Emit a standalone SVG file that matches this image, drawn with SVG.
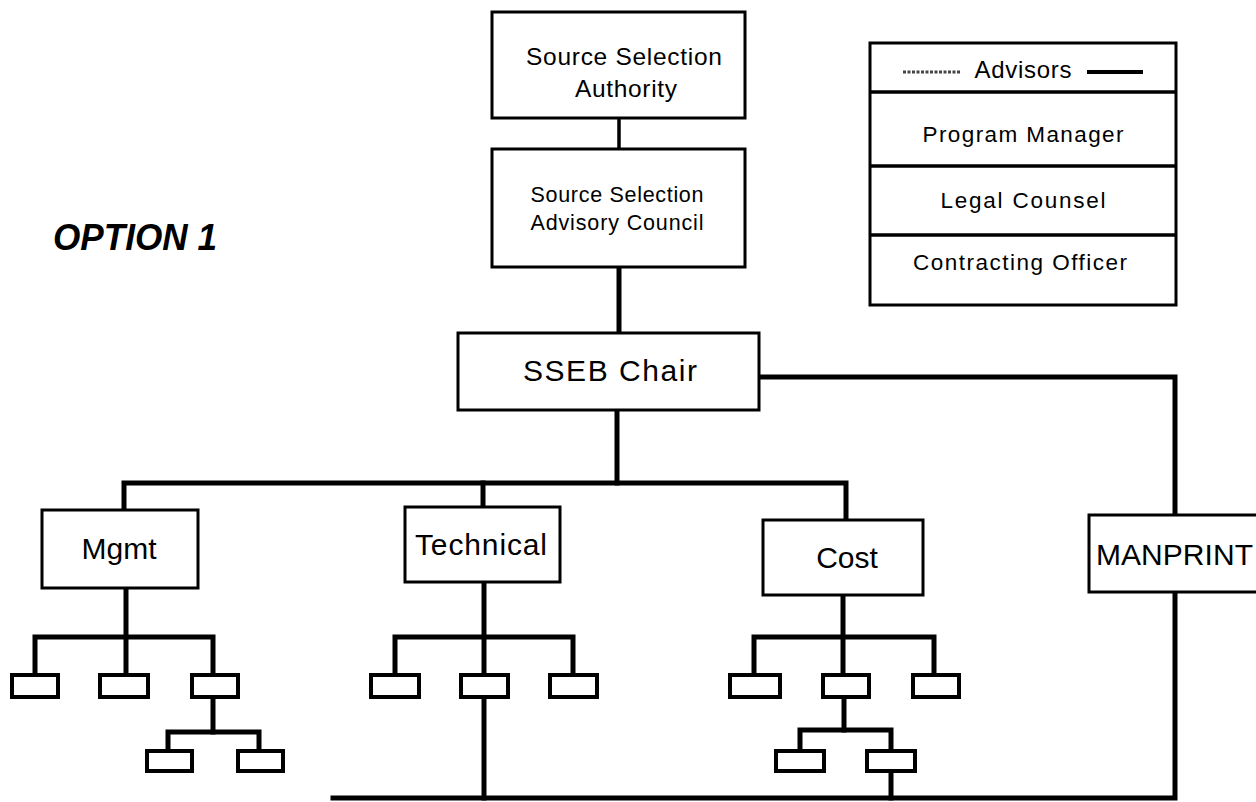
<svg xmlns="http://www.w3.org/2000/svg" width="1256" height="802" viewBox="0 0 1256 802">
<style>
  .box { fill: #fff; stroke: #000; stroke-width: 3; }
  .sub { fill: #fff; stroke: #000; stroke-width: 4; }
  .ln { fill: none; stroke: #000; stroke-width: 5; stroke-linecap: square; stroke-linejoin: miter; }
  .lt { fill: none; stroke: #000; stroke-width: 3.5; }
  text { font-family: "Liberation Sans", Arial, Helvetica, sans-serif; fill: #000; }
  .c { text-anchor: middle; }
  .big { font-size: 30px; }
  .leg { font-size: 22.5px; }
</style>
<rect width="1256" height="802" fill="#fff"/>

<g id="connectors">
  <line class="lt" x1="619" y1="118" x2="619" y2="149"/>
  <line class="ln" x1="619" y1="267" x2="619" y2="333"/>
  <line class="ln" x1="617" y1="410" x2="617" y2="483"/>
  <polyline class="ln" points="759,377 1175,377 1175,515"/>
  <polyline class="ln" points="124,510 124,483 846,483 846,520"/>
  <line class="ln" x1="483" y1="483" x2="483" y2="507"/>
  <!-- Mgmt subtree -->
  <line class="ln" x1="126" y1="588" x2="126" y2="675"/>
  <polyline class="ln" points="35,675 35,637 213,637 213,675"/>
  <line class="ln" x1="213" y1="697" x2="213" y2="732"/>
  <polyline class="ln" points="168,751 168,732 259,732 259,751"/>
  <!-- Technical subtree -->
  <line class="ln" x1="484" y1="582" x2="484" y2="675"/>
  <polyline class="ln" points="395,675 395,637 573,637 573,675"/>
  <line class="ln" x1="484" y1="697" x2="484" y2="798"/>
  <!-- Cost subtree -->
  <line class="ln" x1="843" y1="595" x2="843" y2="675"/>
  <polyline class="ln" points="754,675 754,637 934,637 934,675"/>
  <line class="ln" x1="844" y1="697" x2="844" y2="730"/>
  <polyline class="ln" points="800,751 800,730 891,730 891,751"/>
  <line class="ln" x1="891" y1="771" x2="891" y2="798"/>
  <!-- MANPRINT down and bottom bus -->
  <polyline class="ln" points="333,798 1175,798 1175,592"/>
</g>

<g id="option-label">
  <text x="53" y="250" font-size="36" font-weight="bold" font-style="italic" textLength="164" lengthAdjust="spacingAndGlyphs">OPTION 1</text>
</g>

<g id="ssa">
  <rect class="box" x="492" y="12" width="253" height="106"/>
  <text class="c" x="624" y="65" font-size="24.5" textLength="196">Source Selection</text>
  <text class="c" x="626" y="97" font-size="24.5" textLength="102">Authority</text>
</g>

<g id="ssac">
  <rect class="box" x="492" y="149" width="253" height="118"/>
  <text class="c" x="617" y="202" font-size="21.5" textLength="173">Source Selection</text>
  <text class="c" x="617" y="230" font-size="21.5" textLength="173">Advisory Council</text>
</g>

<g id="advisors">
  <rect class="box" x="870" y="43" width="306" height="262"/>
  <line class="lt" x1="870" y1="92" x2="1176" y2="92"/>
  <line class="lt" x1="870" y1="166" x2="1176" y2="166"/>
  <line class="lt" x1="870" y1="235" x2="1176" y2="235"/>
  <line x1="903" y1="72" x2="960" y2="72" stroke="#444" stroke-width="3" stroke-dasharray="3 1.5"/>
  <line x1="1087" y1="72" x2="1143" y2="72" stroke="#000" stroke-width="4"/>
  <text class="c" x="1023" y="78" font-size="24" textLength="97">Advisors</text>
  <text class="c leg" x="1023" y="142" textLength="201">Program Manager</text>
  <text class="c leg" x="1023" y="208" textLength="165">Legal Counsel</text>
  <text class="c leg" x="1020" y="270" textLength="214">Contracting Officer</text>
</g>

<g id="sseb-chair">
  <rect class="box" x="458" y="333" width="301" height="77"/>
  <text class="c big" x="610" y="381" textLength="174">SSEB Chair</text>
</g>

<g id="mgmt">
  <rect class="box" x="42" y="510" width="156" height="78"/>
  <text class="c big" x="119" y="559">Mgmt</text>
</g>

<g id="technical">
  <rect class="box" x="405" y="507" width="155" height="75"/>
  <text class="c big" x="481" y="555" textLength="132">Technical</text>
</g>

<g id="cost">
  <rect class="box" x="763" y="520" width="160" height="75"/>
  <text class="c big" x="847" y="568">Cost</text>
</g>

<g id="manprint">
  <rect class="box" x="1089" y="515" width="180" height="77"/>
  <text class="big" x="1096" y="565" textLength="157">MANPRINT</text>
</g>

<g id="mgmt-subunits">
  <rect class="sub" x="12" y="675" width="46" height="22"/>
  <rect class="sub" x="100" y="675" width="48" height="22"/>
  <rect class="sub" x="192" y="675" width="46" height="22"/>
  <rect class="sub" x="147" y="751" width="45" height="20"/>
  <rect class="sub" x="238" y="751" width="45" height="20"/>
</g>

<g id="technical-subunits">
  <rect class="sub" x="371" y="675" width="48" height="22"/>
  <rect class="sub" x="461" y="675" width="47" height="22"/>
  <rect class="sub" x="550" y="675" width="47" height="22"/>
</g>

<g id="cost-subunits">
  <rect class="sub" x="730" y="675" width="50" height="22"/>
  <rect class="sub" x="823" y="675" width="46" height="22"/>
  <rect class="sub" x="913" y="675" width="46" height="22"/>
  <rect class="sub" x="776" y="751" width="48" height="20"/>
  <rect class="sub" x="867" y="751" width="48" height="20"/>
</g>
</svg>
